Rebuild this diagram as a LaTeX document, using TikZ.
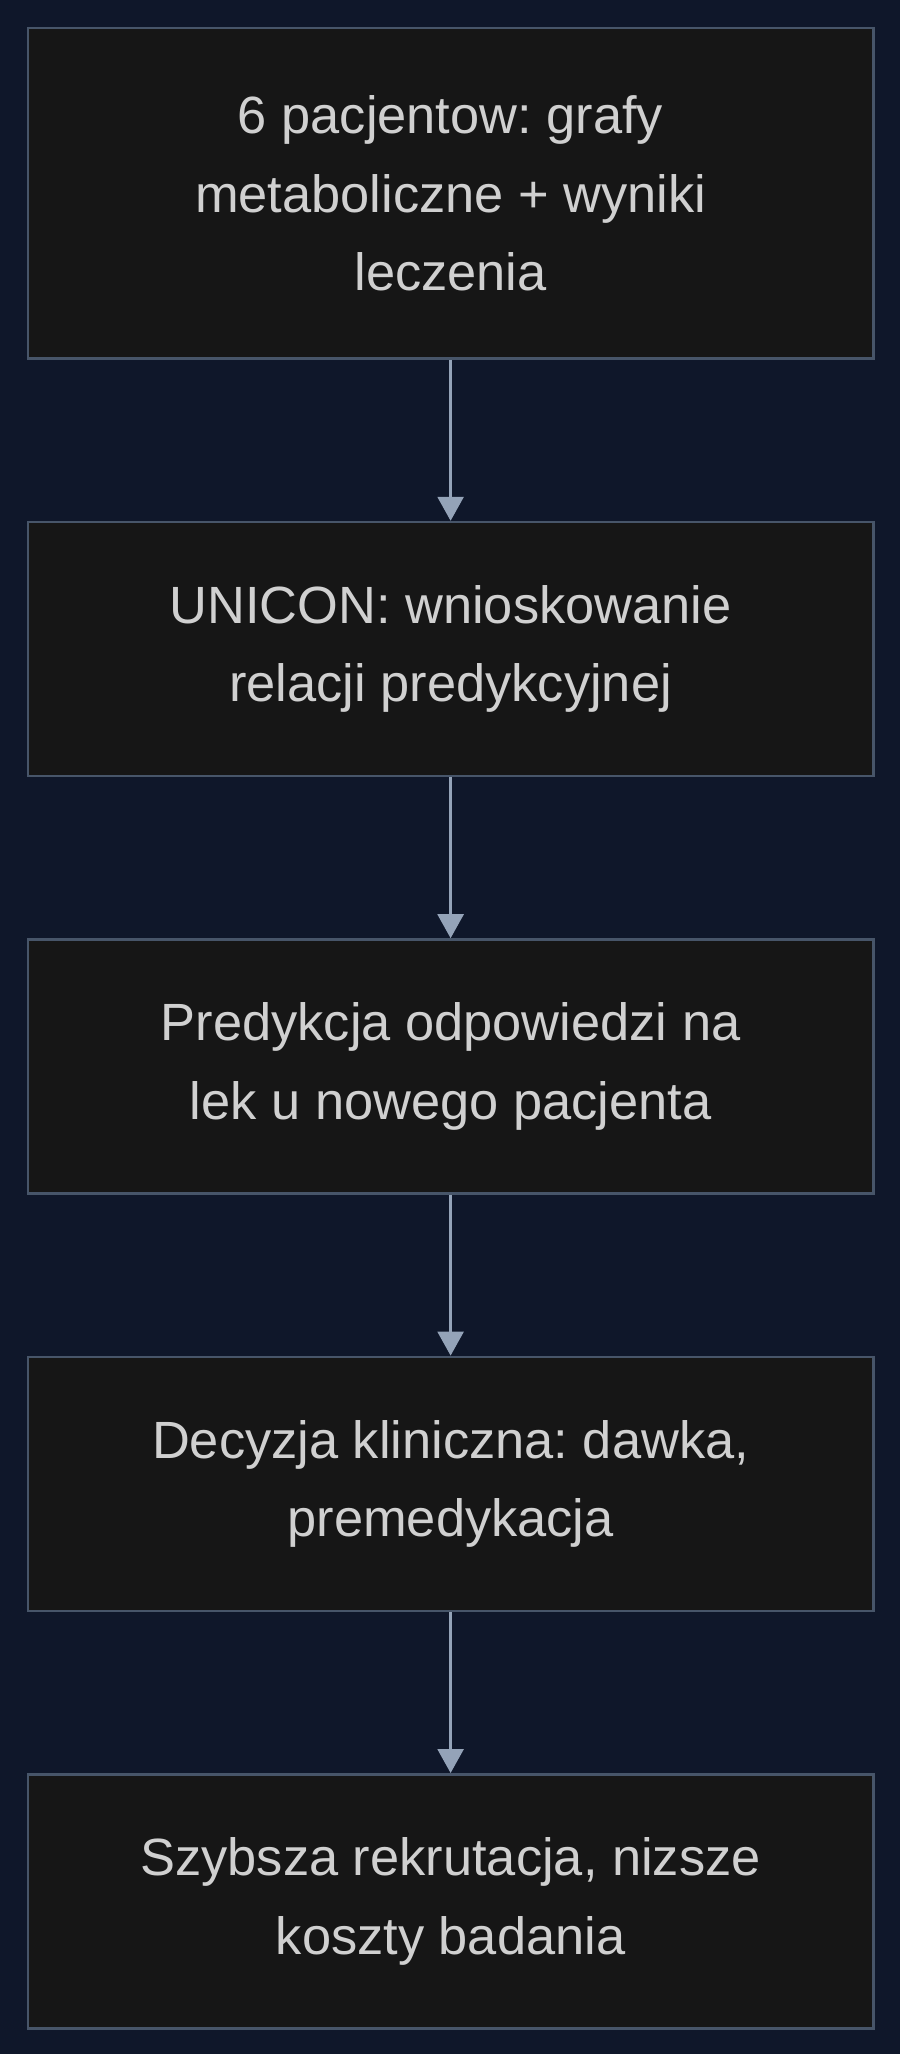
\documentclass[tikz,border=0pt]{standalone}
\usepackage{fontspec}
\setmainfont{Liberation Sans}
\usetikzlibrary{positioning, arrows.meta}

\definecolor{bgnavy}{HTML}{0F172A}
\definecolor{boxfill}{HTML}{161616}
\definecolor{boxedge}{HTML}{475569}
\definecolor{boxtext}{HTML}{D0D0D0}
\definecolor{arrowgray}{HTML}{94A3B8}

\frenchspacing

\begin{document}
\begin{tikzpicture}[
  x=0.5pt, y=-0.5pt,
  node distance=80.4pt,
  stepbox/.style={rectangle, draw=boxedge, fill=boxfill, line width=1.3pt, minimum width=422.7pt, minimum height=127pt, inner sep=0pt, align=center, text=boxtext, font=\fontsize{26.2}{39.3}\selectfont},
  flowarrow/.style={-{Triangle[width=13pt,length=12pt]}, line width=1.3pt, draw=arrowgray, fill=arrowgray}
]

% Background
\fill[bgnavy] (0,0) rectangle (900,2054);

% Pipeline steps
\node[stepbox, minimum height=165.4pt, anchor=north west] (patients) at (26.6,26.6) {6 pacjentow: grafy\\metaboliczne + wyniki\\leczenia};
\node[stepbox, below=of patients] (unicon) {UNICON: wnioskowanie\\relacji predykcyjnej};
\node[stepbox, below=of unicon] (predict) {Predykcja odpowiedzi na\\lek u nowego pacjenta};
\node[stepbox, below=of predict] (decision) {Decyzja kliniczna: dawka,\\premedykacja};
\node[stepbox, below=of decision] (outcome) {Szybsza rekrutacja, nizsze\\koszty badania};

% Connections
\draw[flowarrow] (patients) -- (unicon);
\draw[flowarrow] (unicon) -- (predict);
\draw[flowarrow] (predict) -- (decision);
\draw[flowarrow] (decision) -- (outcome);

\end{tikzpicture}
\end{document}
